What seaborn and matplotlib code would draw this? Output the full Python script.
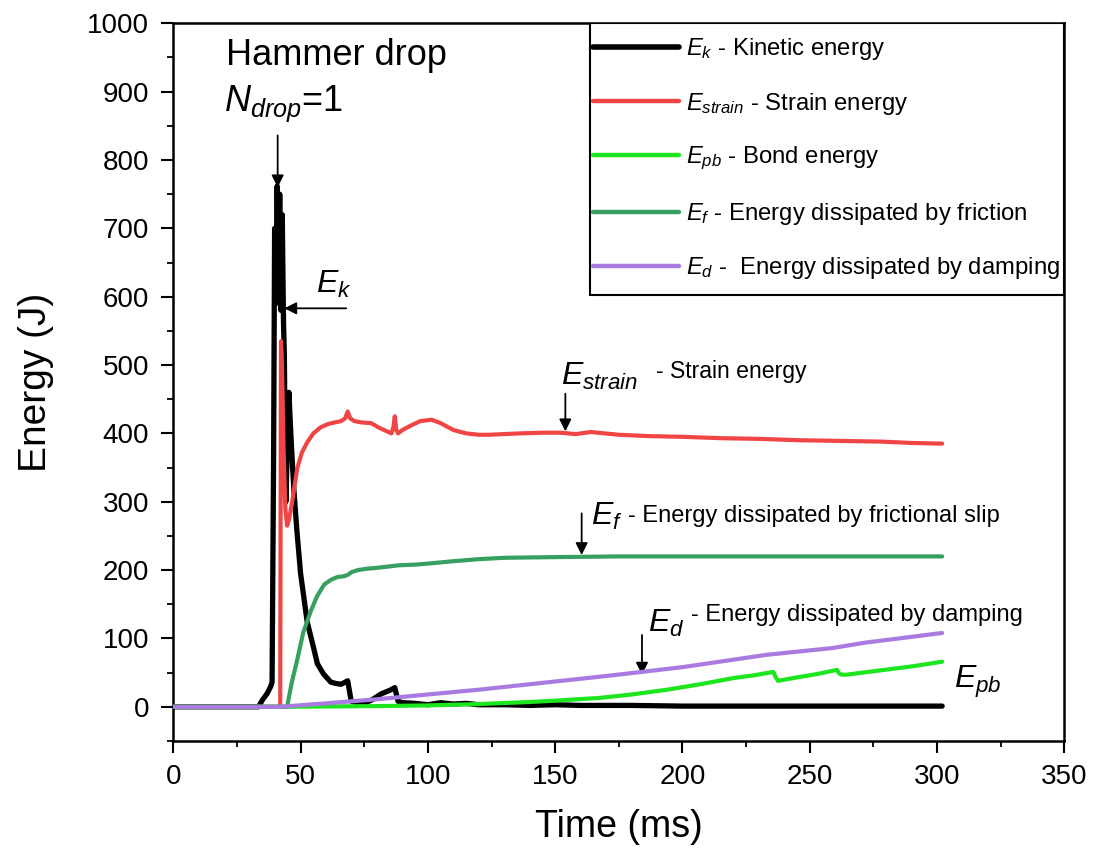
import numpy as np
import pandas as pd
import matplotlib
matplotlib.use("Agg")
import matplotlib.pyplot as plt
from matplotlib.patches import Rectangle
import seaborn as sns

# Energy histories (time in ms, energy in J)
t_k = [0, 33.5, 35, 36.8, 38.3, 38.8, 39.4, 39.8, 40.3, 40.8, 41.3, 41.8, 42.3, 42.8,
       43.3, 43.6, 44.2, 45.4, 46.3, 47.3, 48.5, 50, 52.6, 55, 56.6, 59, 61.9, 64, 65.9,
       67.5, 68.5, 69.9, 72, 75, 78, 81.7, 85, 87, 88.3, 90, 95, 100, 105, 110, 115, 120,
       130, 140, 150, 160, 170, 180, 200, 220, 250, 280, 302]
E_k = [0, 0, 10, 19, 30, 36, 365, 700, 590, 762, 600, 750, 580, 720, 560, 520,
       300, 460, 390, 321, 260, 195, 124, 88, 63, 48, 36, 34, 33,
       36, 38, 8, 6, 5, 10, 19, 24, 28, 8, 6, 5, 3, 6, 4, 5, 3,
       3, 2, 3, 2, 2, 2, 1, 1, 1, 1, 1]

t_strain = [0, 42, 42.3, 42.7, 43.3, 44, 44.7, 45.5, 46.7, 48.7, 50.5, 52.6, 55, 57.9, 61,
            65.9, 67.5, 68.5, 69.5, 71.1, 74, 77.7, 81, 85.7, 86.5, 87, 87.6, 88.3, 90,
            93.6, 97, 101.5, 105, 110, 115, 120, 124, 130, 136, 145, 152, 158, 164, 175,
            187, 200, 215, 230, 246, 262, 278, 290, 302]
E_strain = [0, 0, 535, 500, 380, 290, 265, 275, 300, 349, 372, 387, 400, 409, 414,
            418, 422, 432, 422, 418, 416, 415, 408, 400, 410, 425, 405, 400, 405,
            412, 418, 420, 415, 405, 400, 398, 398, 399, 400, 401, 401, 399, 402, 398,
            396, 395, 393, 392, 390, 389, 388, 386, 385]

t_pb = [0, 45, 60, 80, 100, 120, 140, 150, 167.5, 180, 194, 207, 220, 228, 235.7, 236.5,
        237.5, 245, 253, 260.7, 261.5, 262.5, 264.5, 275, 290, 302]
E_pb = [0, 0, 0.5, 1, 2, 4, 7, 9, 13, 18, 25, 33, 42, 46, 51, 44,
        38, 43, 48, 54, 49, 47, 47, 52, 59, 66]

t_f = [0, 44.7, 46.5, 48.7, 51, 54, 56.5, 59.3, 62, 64.6, 67, 68.5, 70, 72.5, 76, 79.2,
       84, 88.4, 95, 101.5, 110, 120, 130, 150, 175, 200, 250, 302]
E_f = [0, 0, 35, 69, 108, 140, 162, 179, 186, 190, 191, 193, 197, 200, 202, 203,
       205, 207, 208, 210, 213, 216, 218, 219, 220, 220, 220, 220]

t_d = [0, 42, 60, 80, 100, 120, 140, 167.5, 184, 200, 233, 259, 272, 285, 302]
E_d = [0, 0, 5, 11, 18, 25, 33, 44, 51, 58, 76, 86, 94, 100, 108]

series_labels = [r"$E_k$ - Kinetic energy",
                 r"$E_{strain}$ - Strain energy",
                 r"$E_{pb}$ - Bond energy",
                 r"$E_f$ - Energy dissipated by friction",
                 r"$E_d$ -  Energy dissipated by damping"]
series_colors = ["#000000", "#f04545", "#1ee61e", "#37a060", "#a97be0"]

sns.set_style("ticks")
plt.rcParams["font.family"] = ["Liberation Sans", "DejaVu Sans"]
plt.rcParams["mathtext.fontset"] = "custom"
plt.rcParams["mathtext.rm"] = "Liberation Sans"
plt.rcParams["mathtext.it"] = "Liberation Sans:italic"
plt.rcParams["path.simplify"] = False
for key in ["text.color", "axes.labelcolor", "xtick.color", "ytick.color",
            "axes.edgecolor"]:
    plt.rcParams[key] = "black"

fig = plt.figure(figsize=(10.94, 8.57), dpi=100)
ax = fig.add_axes([0.1584, 0.1354, 0.8145, 0.8374])

series = [(t_k, E_k, 3.8), (t_strain, E_strain, 3.0), (t_pb, E_pb, 3.0),
          (t_f, E_f, 3.0), (t_d, E_d, 3.0)]
zorders = [2, 3, 4, 5, 6]
for (t, e, lw), lab, col, z in zip(series, series_labels, series_colors, zorders):
    sns.lineplot(x=t, y=e, ax=ax, color=col, lw=lw, label=lab,
                 estimator=None, sort=False, zorder=z,
                 solid_joinstyle="round", solid_capstyle="round")

ax.set_xlim(0, 350)
ax.set_ylim(-50, 1000)
ax.set_xticks(np.arange(0, 351, 50))
ax.set_yticks(np.arange(0, 1001, 100))
ax.set_xticks(np.arange(25, 350, 50), minor=True)
ax.set_yticks(np.arange(-50, 1000, 100), minor=True)
ax.tick_params(axis="both", which="major", direction="out", length=8.5, width=1.5,
               labelsize=20)
ax.tick_params(axis="y", which="major", pad=9)
ax.tick_params(axis="x", which="major", pad=8)
ax.tick_params(axis="both", which="minor", direction="out", length=4, width=1.3)
for s in ax.spines.values():
    s.set_linewidth(1.8)
ax.set_xlabel("Time (ms)", fontsize=27, labelpad=14)
ax.set_ylabel("Energy (J)", fontsize=28, labelpad=24)

# Legend box spanning the upper right corner of the axes
ax.add_patch(Rectangle((0.4677, 0.6214), 0.5323, 0.3786, transform=ax.transAxes,
                       facecolor="white", edgecolor="black", lw=1.5, zorder=9))
leg = ax.legend(loc="upper left", bbox_to_anchor=(0.4705, 0.982), borderaxespad=0,
                fontsize=17.2, frameon=False, handlelength=3.6, handletextpad=0.3,
                labelspacing=1.19, borderpad=0)
leg.set_zorder(10)
for line in leg.get_lines():
    line.set_linewidth(3.2)
leg.get_lines()[0].set_linewidth(4)

# Annotations
big = 26
sym = 23
desc = 17
arrow = dict(arrowstyle="-|>", color="black", lw=1.3, mutation_scale=18,
             shrinkA=0, shrinkB=0)

ax.text(20.8, 938.6, "Hammer drop", fontsize=big, va="baseline", ha="left")
ax.text(20.0, 872, r"$N_{drop}$=1", fontsize=big, va="baseline", ha="left")
ax.annotate("", xy=(41.0, 760), xytext=(41.0, 836), arrowprops=arrow)

ax.text(56.1, 605.7, r"$E_k$", fontsize=sym, va="baseline", ha="left")
ax.annotate("", xy=(43.6, 583), xytext=(67.9, 583), arrowprops=arrow)

ax.text(152.2, 471, r"$E_{strain}$", fontsize=sym, va="baseline", ha="left")
ax.text(189.5, 480.5, "- Strain energy", fontsize=16.6, va="baseline", ha="left")
ax.annotate("", xy=(154.0, 403), xytext=(154.0, 458), arrowprops=arrow)

ax.text(163.9, 266, r"$E_f$", fontsize=sym, va="baseline", ha="left")
ax.text(178.5, 271, "- Energy dissipated by frictional slip", fontsize=desc,
        va="baseline", ha="left")
ax.annotate("", xy=(160.4, 222), xytext=(160.4, 283), arrowprops=arrow)

ax.text(186.6, 110, r"$E_d$", fontsize=sym, va="baseline", ha="left")
ax.text(203.2, 126, "- Energy dissipated by damping", fontsize=desc,
        va="baseline", ha="left")
ax.annotate("", xy=(184.1, 47), xytext=(184.1, 105), arrowprops=arrow)

ax.text(306.8, 27, r"$E_{pb}$", fontsize=sym, va="baseline", ha="left")

fig.savefig("out.png", dpi=100)
